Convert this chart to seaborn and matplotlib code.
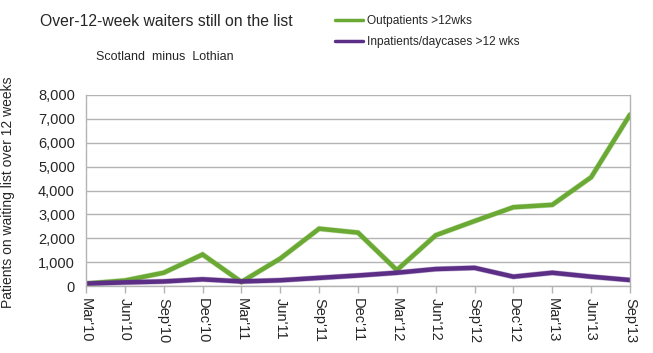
import matplotlib
matplotlib.use("Agg")
import matplotlib.pyplot as plt
import seaborn as sns
import pandas as pd
import matplotlib.patheffects as pe
from matplotlib.ticker import FuncFormatter
from matplotlib.lines import Line2D

quarters = ["Mar'10", "Jun'10", "Sep'10", "Dec'10", "Mar'11", "Jun'11", "Sep'11", "Dec'11",
            "Mar'12", "Jun'12", "Sep'12", "Dec'12", "Mar'13", "Jun'13", "Sep'13"]
outpatients = [100, 230, 555, 1320, 170, 1150, 2400, 2235, 665, 2125, 2720, 3300, 3400, 4555, 7180]
inpatients = [100, 150, 190, 280, 190, 240, 340, 440, 555, 710, 760, 390, 555, 390, 250]
series_names = ["Outpatients >12wks", "Inpatients/daycases >12 wks"]
colors = ["#6aa933", "#5c2e86"]

df = pd.DataFrame({
    "idx": list(range(len(quarters))) * 2,
    "value": outpatients + inpatients,
    "series": [series_names[0]] * len(quarters) + [series_names[1]] * len(quarters),
})

sns.set_style("white")
plt.rcParams["font.family"] = ["Liberation Sans", "DejaVu Sans"]

fig = plt.figure(figsize=(6.53, 3.53), dpi=100)
ax = fig.add_axes([86 / 653, 1 - 286 / 353, (630 - 86) / 653, (286 - 95) / 353])

sns.lineplot(data=df, x="idx", y="value", hue="series", palette=colors, linewidth=3.2,
             ax=ax, legend=False)
for ln in ax.get_lines():
    ln.set_path_effects([pe.Stroke(linewidth=4.0, foreground=ln.get_color(), alpha=0.35), pe.Normal()])
    ln.set_solid_joinstyle("miter")

ax.set_xlim(0, len(quarters) - 1)
ax.set_ylim(0, 8000)
ax.set_yticks(range(0, 8001, 1000))
ax.yaxis.set_major_formatter(FuncFormatter(lambda v, p: f"{int(v):,}"))
ax.set_xticks(range(len(quarters)))
ax.set_xticklabels(quarters, rotation=270, fontsize=10.5)
ax.tick_params(axis="y", labelsize=10.5, length=0, pad=8)
ax.tick_params(axis="x", length=5, color="#b3b3b3", width=1, direction="out", bottom=True, pad=4)
ax.grid(axis="y", color="#b3b3b3", linewidth=1)
ax.set_axisbelow(True)
for s in ["left", "right", "bottom"]:
    ax.spines[s].set_visible(True)
    ax.spines[s].set_color("#b3b3b3")
    ax.spines[s].set_linewidth(1)
ax.spines["top"].set_visible(False)
ax.set_xlabel("")
ax.set_ylabel("Patients on waiting list over 12 weeks", fontsize=10)
ax.yaxis.set_label_coords(-(86 - 15) / 544, 0.49)

fig.text(40 / 653, 1 - 22 / 353, "Over-12-week waiters still on the list", fontsize=11.3,
         va="center", ha="left")
fig.text(96 / 653, 1 - 57 / 353, "Scotland  minus  Lothian", fontsize=9, va="center", ha="left")

handles = [Line2D([], [], color=c, linewidth=2.5) for c in colors]
fig.legend(handles, series_names, loc="upper left", bbox_to_anchor=(335 / 653, 1 - 15 / 353),
           frameon=False, fontsize=8.6, handlelength=2.35, handletextpad=0.3, labelspacing=0.75,
           borderaxespad=0, borderpad=0)

fig.savefig("out.png", dpi=100)
